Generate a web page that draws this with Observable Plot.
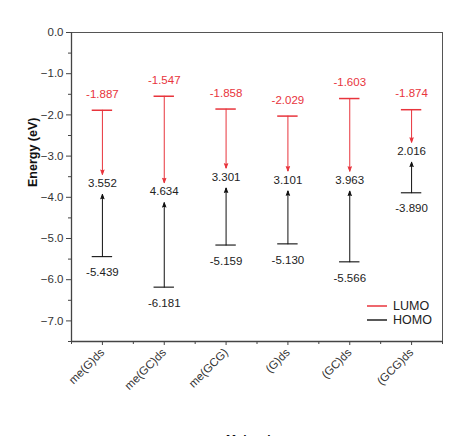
<!DOCTYPE html>
<html>
<head>
<meta charset="utf-8">
<script src="https://cdn.jsdelivr.net/npm/d3@7"></script>
<script src="https://cdn.jsdelivr.net/npm/@observablehq/plot@0.6"></script>
<style>
  html, body { margin: 0; padding: 0; background: #fff; overflow: hidden; }
  #chart { width: 460px; height: 436px; }
</style>
</head>
<body>
<div id="chart"></div>
<script>
const categories = ["me(G)ds", "me(GC)ds", "me(GCG)", "(G)ds", "(GC)ds", "(GCG)ds"];
const lumo = [-1.887, -1.547, -1.858, -2.029, -1.603, -1.874];
const homo = [-5.439, -6.181, -5.159, -5.130, -5.566, -3.890];
const gapLabels = ["3.552", "4.634", "3.301", "3.101", "3.963", "2.016"];
const yTicks = [0, -1, -2, -3, -4, -5, -6, -7];
const yMinor = [-0.5, -1.5, -2.5, -3.5, -4.5, -5.5, -6.5, -7.5];
const legendNames = ["LUMO", "HOMO"];

const RED = "#e8343c";
const DARK = "#222";
const HW = 0.165;

const rows = categories.map((c, i) => ({
  i, c, lumo: lumo[i], homo: homo[i], gap: gapLabels[i], mid: (lumo[i] + homo[i]) / 2
}));
const xMajor = categories.map((_, i) => i);
const xMinor = categories.map((_, i) => i + 0.5).concat([-0.5]);
const font = "Liberation Sans, Arial, sans-serif";

const plot = Plot.plot({
  width: 460,
  height: 436,
  marginLeft: 71,
  marginRight: 18,
  marginTop: 32,
  marginBottom: 95,
  style: { fontFamily: font, fontSize: "11px", color: "#333", background: "#fff" },
  x: { type: "linear", domain: [-0.5, 5.5] },
  y: { domain: [-7.5, 0] },
  marks: [
    Plot.frame({ stroke: "#555", strokeWidth: 1 }),
    Plot.ruleX([-0.5], { stroke: "#444", strokeWidth: 1.3 }),
    Plot.ruleY([-7.5], { stroke: "#444", strokeWidth: 1.3 }),
    // axes
    Plot.axisY({ ticks: yTicks, tickFormat: d3.format(".1f"), tickSize: 5, tickPadding: 3, label: null, fontSize: 11.5, stroke: "#444" }),
    Plot.axisY({ ticks: yMinor, tickSize: 3, tickFormat: () => "", label: null, stroke: "#444" }),
    Plot.axisX({ ticks: xMajor, tickSize: 4, tickFormat: i => categories[i], tickRotate: -45, tickPadding: 5, label: null, fontSize: 11.5, stroke: "#444" }),
    Plot.axisX({ ticks: xMinor, tickSize: 3, tickFormat: () => "", label: null, stroke: "#444" }),
    Plot.text(["Energy (eV)"], { frameAnchor: "left", dx: -39, rotate: -90, fontWeight: "bold", fontSize: 12.5, fill: "#111" }),
    Plot.text(["Molecules"], { frameAnchor: "bottom", dy: 102, fontWeight: "bold", fontSize: 12, fill: "#111", dx: -2 }),
    // LUMO levels
    Plot.ruleY(rows, { y: "lumo", x1: d => d.i - HW, x2: d => d.i + HW, stroke: RED, strokeWidth: 1.5 }),
    Plot.text(rows, { x: "i", y: "lumo", text: d => d.lumo.toFixed(3), dy: -16, fill: RED, fontSize: 11.5 }),
    // HOMO levels
    Plot.ruleY(rows, { y: "homo", x1: d => d.i - HW, x2: d => d.i + HW, stroke: DARK, strokeWidth: 1.2 }),
    Plot.text(rows, { x: "i", y: "homo", text: d => d.homo.toFixed(3), dy: 16, fill: "#222", fontSize: 11.5 }),
    // arrows
    Plot.arrow(rows, { x1: "i", x2: "i", y1: "lumo", y2: "mid", insetEnd: 9, stroke: RED, fill: RED, strokeWidth: 1, headLength: 7, headAngle: 40 }),
    Plot.arrow(rows, { x1: "i", x2: "i", y1: "homo", y2: "mid", insetEnd: 11, stroke: "#111", fill: "#111", strokeWidth: 1, headLength: 7, headAngle: 40 }),
    Plot.text(rows, { x: "i", y: "mid", text: "gap", fill: "#222", fontSize: 11.5 })
  ]
});
document.getElementById("chart").appendChild(plot);

// legend inside the plot area, bottom right
const svg = d3.select(plot);
const legendColors = [RED, DARK];
legendNames.forEach((name, j) => {
  const g = svg.append("g").attr("transform", `translate(367,${306 + j * 14})`);
  g.append("line").attr("x1", 0).attr("x2", 20).attr("y1", 0).attr("y2", 0)
    .attr("stroke", legendColors[j]).attr("stroke-width", 1.5);
  g.append("text").attr("x", 26).attr("y", 0).attr("dy", "0.35em")
    .attr("text-anchor", "start").attr("font-size", 12.5).attr("font-family", font)
    .attr("fill", "#222").text(name);
});
</script>
</body>
</html>
